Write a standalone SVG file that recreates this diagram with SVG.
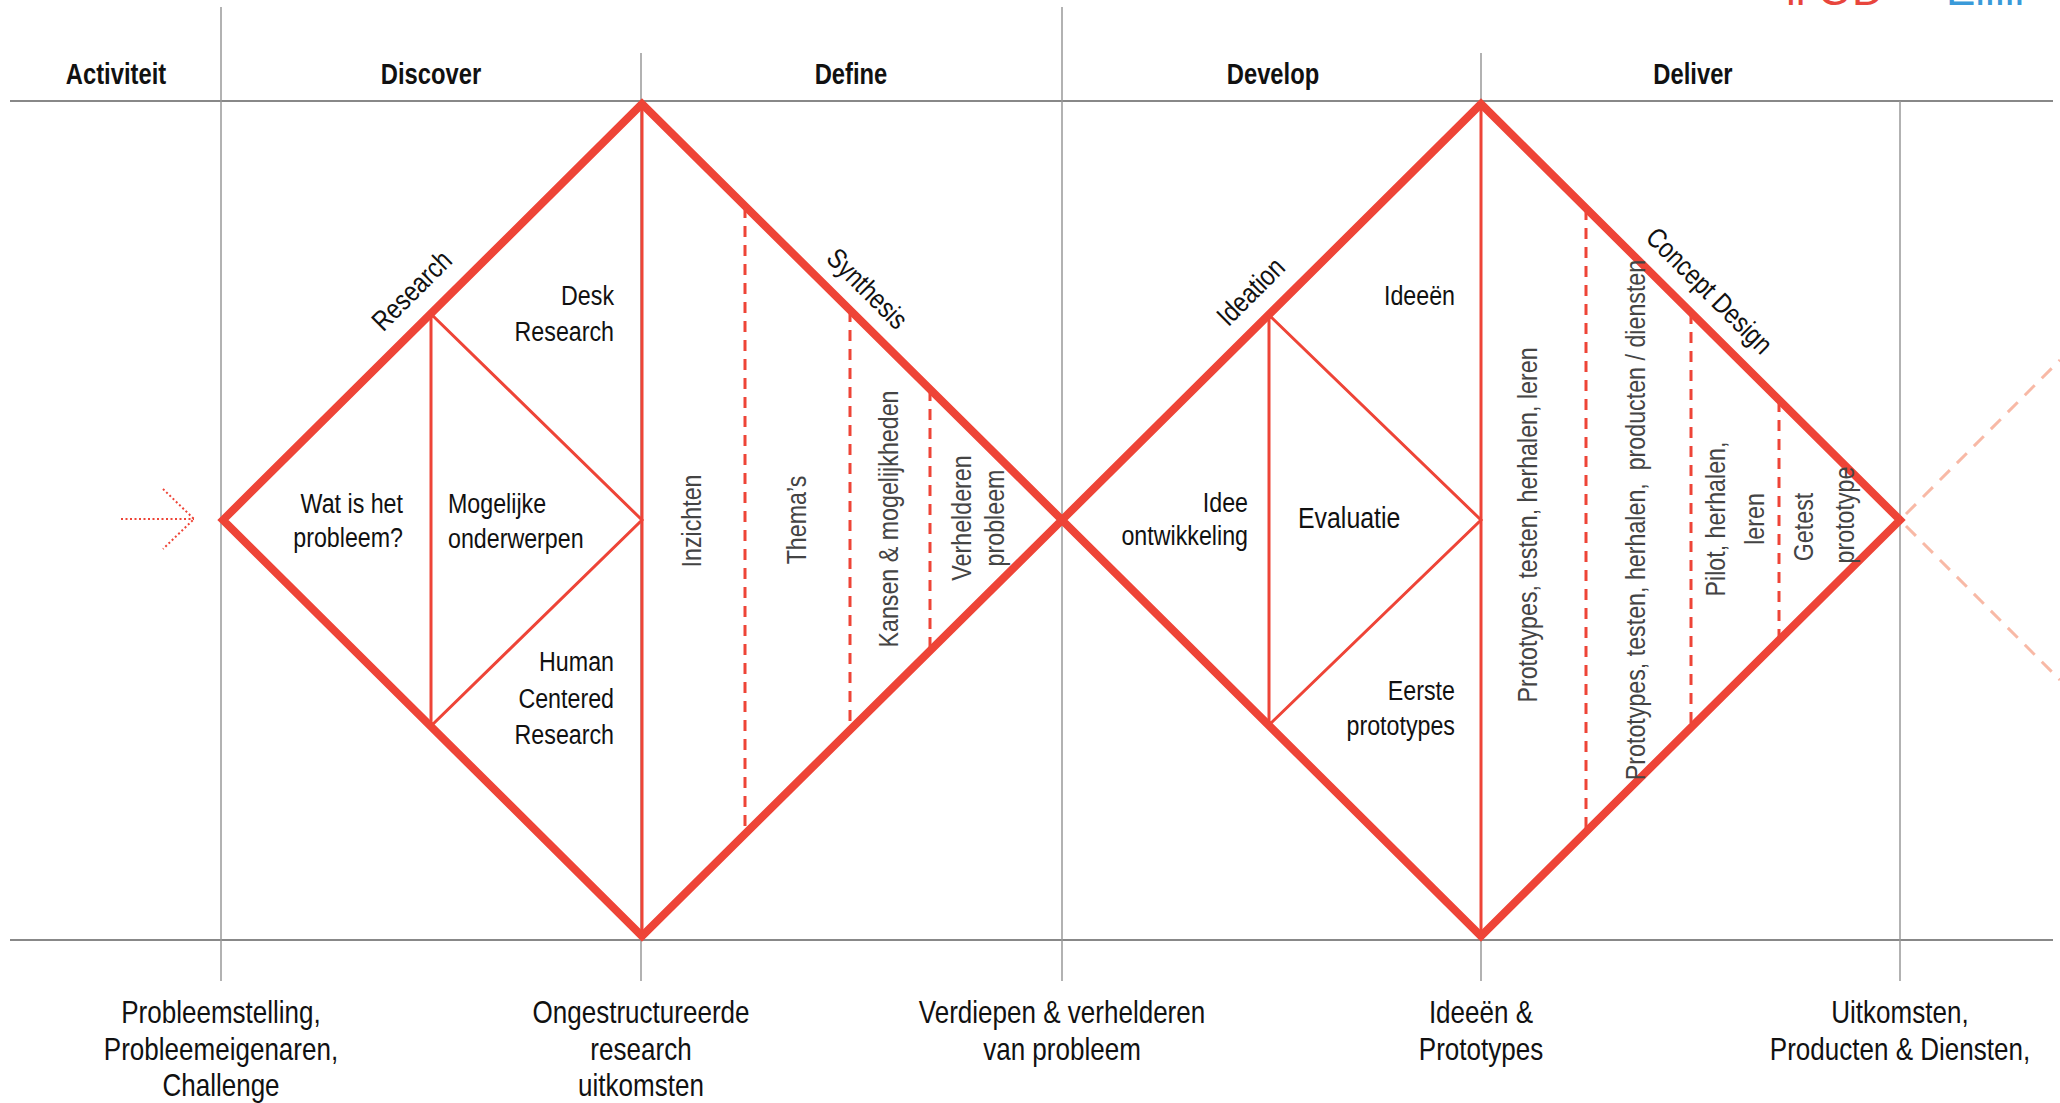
<svg xmlns="http://www.w3.org/2000/svg" width="2060" height="1103" viewBox="0 0 2060 1103">
<style>
text{font-family:"Liberation Sans",Arial,sans-serif;font-size:28px;fill:#111;transform-box:fill-box;transform-origin:left center;transform:scaleX(0.83)}
.hd{font-weight:bold;font-size:29px;text-anchor:middle;transform-origin:center;transform:scaleX(0.82)}
.c{text-anchor:middle;transform-origin:center}
.r{text-anchor:end;transform-origin:right center}
.v{fill:#444;text-anchor:middle;transform-origin:center}
.b{font-size:31px;text-anchor:middle;transform-origin:center;transform:scaleX(0.84)}
.logo{font-size:44px;transform:none}
.grid{stroke:#999;stroke-width:1.5;fill:none}
.hline{stroke:#888;stroke-width:2;fill:none}
.thick{stroke:#EE4437;stroke-width:8;fill:none;stroke-linejoin:miter}
.thin{stroke:#EE4437;stroke-width:3;fill:none}
.dash{stroke:#EE4437;stroke-width:3;fill:none;stroke-dasharray:11 8}
.faint{stroke:#F8B9A6;stroke-width:3;fill:none;stroke-dasharray:14 10}
.dot{stroke:#EE4437;stroke-width:2;fill:none;stroke-dasharray:2 2.5}
</style>
<rect width="2060" height="1103" fill="#fff"/>
<g id="logo">
<text class="logo" x="1786" y="5" style="fill:#E8453C">ll OD</text>
<text class="logo" x="1946" y="5" style="fill:#3A9AD9">Elllll</text>
</g>
<g id="grid">
<line class="hline" x1="10" y1="101" x2="2053" y2="101"/>
<line class="hline" x1="10" y1="940" x2="2053" y2="940"/>
<line class="grid" x1="221" y1="7" x2="221" y2="981"/>
<line class="grid" x1="641" y1="53" x2="641" y2="981"/>
<line class="grid" x1="1062" y1="7" x2="1062" y2="981"/>
<line class="grid" x1="1481" y1="53" x2="1481" y2="981"/>
<line class="grid" x1="1900" y1="101" x2="1900" y2="981"/>
</g>
<g id="headers">
<text class="hd" x="116" y="84">Activiteit</text>
<text class="hd" x="431" y="84">Discover</text>
<text class="hd" x="851" y="84">Define</text>
<text class="hd" x="1273" y="84">Develop</text>
<text class="hd" x="1693" y="84">Deliver</text>
</g>
<g id="connectors">
<path class="dot" d="M121,519 L194,519 M163,489 L194,519 L163,549"/>
<path class="faint" d="M1906,514 L2060,360 M1906,526 L2060,680"/>
</g>
<g id="diamond-discover-define">
<path class="thick" d="M223,520 L642,104 L1062,520 L642,936 Z"/>
<line class="thin" x1="642" y1="104" x2="642" y2="936"/>
<path class="thin" d="M431,314 L431,726 L642,520 Z"/>
<line class="dash" x1="745" y1="207" x2="745" y2="833"/>
<line class="dash" x1="850" y1="311" x2="850" y2="729"/>
<line class="dash" x1="930" y1="390" x2="930" y2="650"/>
</g>
<g id="diamond-develop-deliver">
<path class="thick" d="M1062,520 L1481,104 L1900,520 L1481,936 Z"/>
<line class="thin" x1="1481" y1="104" x2="1481" y2="936"/>
<path class="thin" d="M1269,315 L1269,725 L1481,520 Z"/>
<line class="dash" x1="1586" y1="209" x2="1586" y2="831"/>
<line class="dash" x1="1691" y1="313" x2="1691" y2="727"/>
<line class="dash" x1="1779" y1="401" x2="1779" y2="639"/>
</g>
<g id="label-research" transform="translate(412,291) rotate(-45)">
<text class="c" x="0" y="9">Research</text>
</g>
<g id="label-synthesis" transform="translate(867,289) rotate(45)">
<text class="c" x="0" y="9">Synthesis</text>
</g>
<g id="label-ideation" transform="translate(1251,292) rotate(-45)">
<text class="c" x="0" y="9">Ideation</text>
</g>
<g id="label-concept-design" transform="translate(1709,291) rotate(45)">
<text class="c" x="0" y="9">Concept Design</text>
</g>
<g id="node-desk-research">
<text class="r" x="614" y="305">Desk</text>
<text class="r" x="614" y="341">Research</text>
</g>
<g id="node-wat-is-het-probleem">
<text class="r" x="403" y="513">Wat is het</text>
<text class="r" x="403" y="547">probleem?</text>
</g>
<g id="node-mogelijke-onderwerpen">
<text x="448" y="513">Mogelijke</text>
<text x="448" y="548">onderwerpen</text>
</g>
<g id="node-human-centered-research">
<text class="r" x="614" y="671">Human</text>
<text class="r" x="614" y="708">Centered</text>
<text class="r" x="614" y="744">Research</text>
</g>
<g id="node-inzichten" transform="translate(701,521) rotate(-90)">
<text class="v" x="0" y="0">Inzichten</text>
</g>
<g id="node-themas" transform="translate(806,520) rotate(-90)">
<text class="v" x="0" y="0">Thema’s</text>
</g>
<g id="node-kansen" transform="translate(898,519) rotate(-90)">
<text class="v" x="0" y="0">Kansen &amp; mogelijkheden</text>
</g>
<g id="node-verhelderen-probleem" transform="translate(971,518) rotate(-90)">
<text class="v" x="0" y="0">Verhelderen</text>
<text class="v" x="0" y="33">probleem</text>
</g>
<g id="node-ideeen">
<text class="r" x="1455" y="305">Ideeën</text>
</g>
<g id="node-idee-ontwikkeling">
<text class="r" x="1248" y="512">Idee</text>
<text class="r" x="1248" y="545">ontwikkeling</text>
</g>
<g id="node-evaluatie">
<text x="1298" y="528" style="font-size:30px">Evaluatie</text>
</g>
<g id="node-eerste-prototypes">
<text class="r" x="1455" y="700">Eerste</text>
<text class="r" x="1455" y="735">prototypes</text>
</g>
<g id="node-prototypes-1" transform="translate(1537,525) rotate(-90)">
<text class="v" x="0" y="0">Prototypes, testen, herhalen, leren</text>
</g>
<g id="node-prototypes-2" transform="translate(1645,520) rotate(-90)">
<text class="v" x="0" y="0" xml:space="preserve">Prototypes, testen, herhalen,  producten / diensten</text>
</g>
<g id="node-pilot" transform="translate(1725,519) rotate(-90)">
<text class="v" x="0" y="0">Pilot, herhalen,</text>
<text class="v" x="0" y="39">leren</text>
</g>
<g id="node-getest-prototype" transform="translate(1813,521) rotate(-90)">
<text class="v" x="-6" y="0">Getest</text>
<text class="v" x="6" y="41">prototype</text>
</g>
<g id="outputs">
<text class="b" x="221" y="1023">Probleemstelling,</text>
<text class="b" x="221" y="1060">Probleemeigenaren,</text>
<text class="b" x="221" y="1096">Challenge</text>
<text class="b" x="641" y="1023">Ongestructureerde</text>
<text class="b" x="641" y="1060">research</text>
<text class="b" x="641" y="1096">uitkomsten</text>
<text class="b" x="1062" y="1023">Verdiepen &amp; verhelderen</text>
<text class="b" x="1062" y="1060">van probleem</text>
<text class="b" x="1481" y="1023">Ideeën &amp;</text>
<text class="b" x="1481" y="1060">Prototypes</text>
<text class="b" x="1900" y="1023">Uitkomsten,</text>
<text class="b" x="1900" y="1060">Producten &amp; Diensten,</text>
</g>
</svg>
